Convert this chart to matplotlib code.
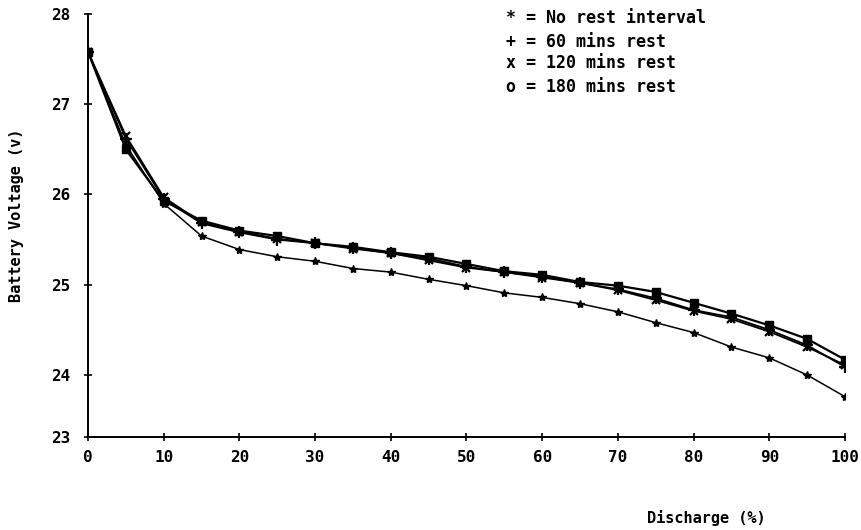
import numpy as np
import matplotlib
matplotlib.use("Agg")
import matplotlib.pyplot as plt

discharge = [0, 5, 10, 15, 20, 25, 30, 35, 40, 45, 50, 55, 60, 65, 70, 75, 80, 85, 90, 95, 100]
no_rest = [27.58, 26.55, 25.90, 25.54, 25.39, 25.31, 25.26, 25.18, 25.14, 25.06, 24.99,
           24.91, 24.86, 24.79, 24.70, 24.58, 24.47, 24.31, 24.19, 24.00, 23.65]
rest60 = [27.58, 26.62, 25.95, 25.68, 25.58, 25.50, 25.46, 25.41, 25.35, 25.29, 25.20,
          25.14, 25.09, 25.02, 24.95, 24.85, 24.72, 24.64, 24.50, 24.33, 24.09]
rest120 = [27.58, 26.65, 25.97, 25.69, 25.59, 25.51, 25.46, 25.40, 25.35, 25.27, 25.19,
           25.14, 25.08, 25.02, 24.94, 24.83, 24.71, 24.62, 24.48, 24.31, 24.11]
rest180 = [27.58, 26.50, 25.93, 25.71, 25.60, 25.54, 25.46, 25.42, 25.36, 25.31, 25.23,
           25.15, 25.11, 25.03, 24.99, 24.92, 24.80, 24.68, 24.55, 24.40, 24.17]
legend_symbols = ["*", "+", "x", "o"]
legend_labels = ["No rest interval", "60 mins rest", "120 mins rest", "180 mins rest"]
x_ticks = [0, 10, 20, 30, 40, 50, 60, 70, 80, 90, 100]
y_ticks = [23, 24, 25, 26, 27, 28]

# the printed axis has a compressed 23-24 interval
K = 0.687
def fwd(v):
    v = np.asarray(v, dtype=float)
    return np.where(v >= 24, v - 24 + K, (v - 23) * K)
def inv(u):
    u = np.asarray(u, dtype=float)
    return np.where(u >= K, u - K + 24, u / K + 23)

mono = "DejaVu Sans Mono"
fig = plt.figure(figsize=(8.62, 5.30), dpi=100)
ax = fig.add_axes([88/862, 1-437/530, 757/862, 423/530])
ax.set_yscale("function", functions=(fwd, inv))

ax.plot(discharge, no_rest, color="black", lw=1.1, marker="*", ms=6, mec="black", mfc="black")
ax.plot(discharge, rest60, color="black", lw=1.3, marker="+", ms=8, mew=1.6)
ax.plot(discharge, rest120, color="black", lw=1.3, marker="x", ms=6, mew=1.6)
ax.plot(discharge, rest180, color="black", lw=1.6, marker="s", ms=5.5, mfc="black", mec="black")

ax.set_xlim(0, 100)
ax.set_ylim(23, 28)
ax.set_xticks(x_ticks)
ax.set_yticks(y_ticks)
ax.set_xticklabels([str(t) for t in x_ticks], fontfamily=mono, fontweight="bold", fontsize=11.5)
ax.set_yticklabels([str(t) for t in y_ticks], fontfamily=mono, fontweight="bold", fontsize=11.5)
ax.minorticks_off()
ax.tick_params(direction="inout", length=6, width=1.2, colors="black")
ax.tick_params(axis="y", pad=10)
ax.tick_params(axis="x", pad=6)
for s in ["top", "right"]:
    ax.spines[s].set_visible(False)
for s in ["left", "bottom"]:
    ax.spines[s].set_linewidth(1.4)

fig.text(17/862, 1-215/530, "Battery Voltage (v)", rotation=90, ha="center", va="center",
         fontfamily=mono, fontweight="bold", fontsize=11)
fig.text(706/862, 1-518/530, "Discharge (%)", ha="center", va="center",
         fontfamily=mono, fontweight="bold", fontsize=11)

ys = [18, 42, 63, 87]
for sym, lab, y in zip(legend_symbols, legend_labels, ys):
    fig.text(506/862, 1-y/530, sym + " = " + lab, ha="left", va="center",
             fontfamily=mono, fontweight="bold", fontsize=12)

fig.savefig("out.png", dpi=100, facecolor="white")
